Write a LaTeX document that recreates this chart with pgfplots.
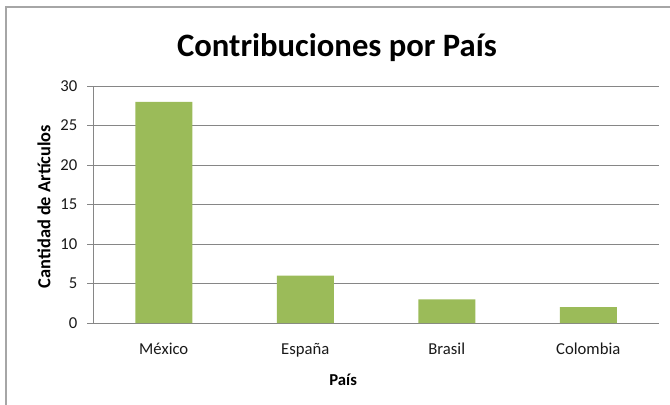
\documentclass[border=0pt]{standalone}
\usepackage{pgfplots}
\pgfplotsset{compat=1.18}
\usepackage{fontspec}
\setmainfont{Carlito}
\definecolor{bargreen}{HTML}{9BBB59}
\definecolor{gridgray}{HTML}{868686}
\definecolor{framegray}{HTML}{A6A6A6}
\begin{document}
\begin{tikzpicture}
\useasboundingbox (0pt,0pt) rectangle (502.5pt,303pt);
\begin{axis}[
  at={(69.75pt,60.75pt)}, anchor=south west,
  scale only axis,
  width=424.5pt, height=177.75pt,
  xmin=-0.5, xmax=3.5, ymin=0, ymax=30,
  ytick={0,5,10,15,20,25,30},
  xtick={0,1,2,3},
  xticklabels={México,España,Brasil,Colombia},
  axis line style={draw=none},
  ymajorgrids, grid style={gridgray, line width=0.75pt},
  tick align=outside, major tick length=4.5pt,
  ytick pos=left,
  ytick style={gridgray, line width=0.75pt},
  xtick style={draw=none},
  /pgf/number format/assume math mode=true,
  ticklabel style={font=\fontsize{12.5}{14}\selectfont, text=black!90},
  xticklabel style={yshift=-7pt},
  yticklabel style={xshift=-3.75pt},
  xlabel={País}, ylabel={Cantidad de Artículos},
  xlabel style={font=\bfseries\fontsize{12.5}{14}\selectfont, at={(axis description cs:0.442,-0.2405)}, anchor=center},
  ylabel style={font=\bfseries\fontsize{13.8}{15}\selectfont, at={(axis description cs:-0.0866,0.4916)}, anchor=center},
  title={Contribuciones por País},
  every axis title shift=0pt,
  title style={font=\bfseries\fontsize{24.5}{28}\selectfont, at={(axis description cs:0.431,1.162)}, anchor=center},
  ybar, bar width=42.75pt,
]
\addplot[fill=bargreen, draw=none] coordinates {(0,28) (1,6) (2,3) (3,2)};
\draw[gridgray, line width=0.75pt] (rel axis cs:0,0) -- (rel axis cs:0,1);
\end{axis}
\draw[color=framegray, line width=1.3pt] (4.5pt,-5pt) -- (4.5pt,297.75pt) -- (510pt,297.75pt);
\end{tikzpicture}
\end{document}
